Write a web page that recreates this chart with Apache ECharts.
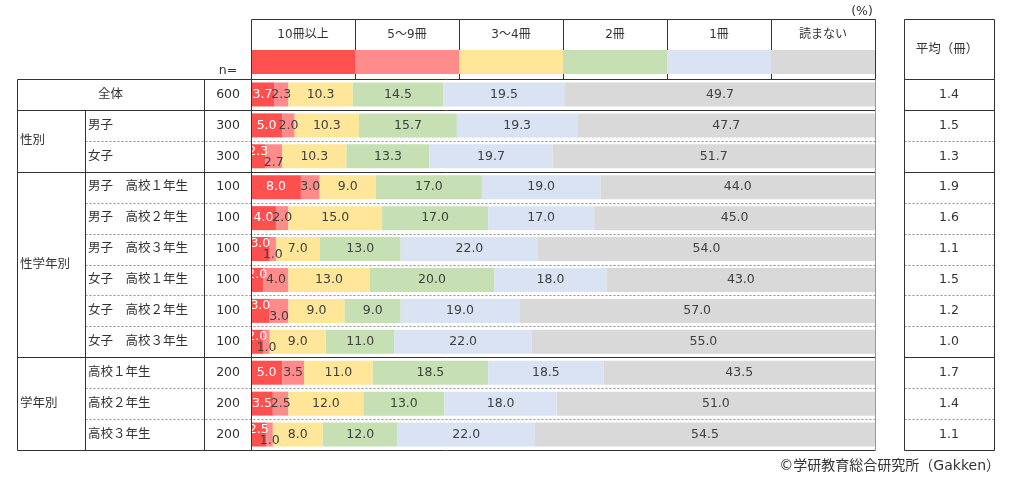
<!DOCTYPE html>
<html><head><meta charset="utf-8">
<script src="https://cdn.jsdelivr.net/npm/echarts@6/dist/echarts.min.js"></script>
<style>html,body{margin:0;padding:0;background:#fff}#c{width:1030px;height:483px}</style>
</head><body><div id="c"></div>
<script>
const categories = ['10冊以上', '5～9冊', '3～4冊', '2冊', '1冊', '読まない'];
const rowKeys = ['all','boy','girl','b1','b2','b3','g1','g2','g3','h1','h2','h3'];
const subLabels = ['', '男子', '女子', '男子　高校１年生', '男子　高校２年生', '男子　高校３年生',
  '女子　高校１年生', '女子　高校２年生', '女子　高校３年生', '高校１年生', '高校２年生', '高校３年生'];
const nValues = ['600','300','300','100','100','100','100','100','100','200','200','200'];
const avgValues = ['1.4','1.5','1.3','1.9','1.6','1.1','1.5','1.2','1.0','1.7','1.4','1.1'];
const groups = [
  {name:'全体', from:0, to:0, centered:true},
  {name:'性別', from:1, to:2},
  {name:'性学年別', from:3, to:8},
  {name:'学年別', from:9, to:11}
];
const v10plus = [3.7, 5.0, 2.3, 8.0, 4.0, 3.0, 2.0, 3.0, 2.0, 5.0, 3.5, 2.5];
const v5to9   = [2.3, 2.0, 2.7, 3.0, 2.0, 1.0, 4.0, 3.0, 1.0, 3.5, 2.5, 1.0];
const v3to4   = [10.3, 10.3, 10.3, 9.0, 15.0, 7.0, 13.0, 9.0, 9.0, 11.0, 12.0, 8.0];
const v2      = [14.5, 15.7, 13.3, 17.0, 17.0, 13.0, 20.0, 9.0, 11.0, 18.5, 13.0, 12.0];
const v1      = [19.5, 19.3, 19.7, 19.0, 17.0, 22.0, 18.0, 19.0, 22.0, 18.5, 18.0, 22.0];
const v0      = [49.7, 47.7, 51.7, 44.0, 45.0, 54.0, 43.0, 57.0, 55.0, 43.5, 51.0, 54.5];
const seriesValues = [v10plus, v5to9, v3to4, v2, v1, v0];
const colors = ['#FF5050', '#FF8B8B', '#FFE699', '#C6E0B4', '#DAE3F3', '#D9D9D9'];

const FONT = "'DejaVu Sans','Noto Sans CJK JP',sans-serif";
const TXT = '#333';
const L = 251, W = 624, T = 79, H = 371;

const chart = echarts.init(document.getElementById('c'), null, {renderer:'canvas'});

function itemsFor(si) {
  return seriesValues[si].map((v, r) => {
    let dy = 0;
    const a = v10plus[r], b = v5to9[r];
    if (si === 0 && a <= 3) dy = -5;
    if (si === 1 && a <= 3 && b <= 3) dy = 6;
    return {value: v, label: {offset: [0, dy]}};
  });
}

const series = categories.map((name, si) => ({
  name, type: 'bar', stack: 'total', xAxisIndex: 0, yAxisIndex: 0,
  barWidth: 24,
  itemStyle: {color: colors[si]},
  label: {
    show: true, position: 'inside', fontFamily: FONT, fontSize: 12.5,
    color: si === 0 ? '#fff' : '#404040',
    formatter: p => p.value.toFixed(1)
  },
  data: itemsFor(si)
}));
series.push({
  type: 'bar', xAxisIndex: 1, yAxisIndex: 3, barCategoryGap: '0%', silent: true,
  data: categories.map((c, i) => ({value: 1, itemStyle: {color: colors[i]}})),
  z: 3
});

const option = {
  animation: false,
  textStyle: {fontFamily: FONT},
  grid: [
    {left: L, top: T, width: W, height: H},
    {left: L, top: 50, width: W, height: 24}
  ],
  xAxis: [
    {type: 'value', gridIndex: 0, min: 0, max: 100, show: false},
    {type: 'category', gridIndex: 1, position: 'top', data: categories,
     axisLine: {show: false}, axisTick: {show: false}, splitLine: {show: false},
     axisLabel: {interval: 0, margin: 9, fontSize: 12, color: TXT, fontFamily: FONT}}
  ],
  yAxis: [
    {type: 'category', gridIndex: 0, inverse: true, position: 'left', data: rowKeys,
     axisLine: {show: false}, axisTick: {show: false},
     axisLabel: {align: 'left', margin: L - 88, fontSize: 12.5, color: TXT, fontFamily: FONT,
       formatter: (v, i) => subLabels[i]}},
    {type: 'category', gridIndex: 0, inverse: true, position: 'left', data: rowKeys,
     axisLine: {show: false}, axisTick: {show: false},
     axisLabel: {align: 'right', margin: 11, fontSize: 12.5, color: TXT, fontFamily: FONT,
       formatter: (v, i) => nValues[i]}},
    {type: 'category', gridIndex: 0, inverse: true, position: 'right', data: rowKeys,
     axisLine: {show: false}, axisTick: {show: false},
     axisLabel: {align: 'center', margin: 74, fontSize: 12.5, color: TXT, fontFamily: FONT,
       formatter: (v, i) => avgValues[i]}},
    {type: 'value', gridIndex: 1, min: 0, max: 1, show: false}
  ],
  series
};
chart.setOption(option);

// table lines and texts
const yc = i => chart.convertToPixel({yAxisIndex: 0}, rowKeys[i]);
const rowH = (yc(11) - yc(0)) / 11;
const bnd = i => i < 12 ? yc(i) - rowH / 2 : yc(11) + rowH / 2;
const starts = new Set(groups.map(g => g.from).concat([12]));
const crisp = v => Math.round(v) + 0.5;
const els = [];
function line(x1, y1, x2, y2, color, dash, z) {
  els.push({type: 'line', silent: true, z: z == null ? 10 : z,
    shape: {x1: crisp(x1), y1: crisp(y1), x2: crisp(x2), y2: crisp(y2)},
    style: {stroke: color, lineWidth: 1, lineDash: dash ? [2, 2] : null}});
}
function text(str, x, y, align, size) {
  els.push({type: 'text', silent: true, z: 10, x, y,
    style: {text: str, fill: TXT, font: (size || 12) + 'px ' + FONT, align: align || 'center', verticalAlign: 'middle'}});
}
const RX = L + W;
const AX1 = 904, AX2 = 994;
for (let b = 0; b <= 12; b++) {
  const y = bnd(b);
  if (starts.has(b)) {
    line(17, y, RX, y, '#333');
    line(AX1, y, AX2, y, '#333');
  } else {
    line(85, y, RX, y, '#909090', true);
    line(AX1, y, AX2, y, '#909090', true);
  }
}
const yTop = bnd(0), yBot = bnd(12);
line(17, yTop, 17, yBot, '#333');
line(85, bnd(1), 85, yBot, '#333');
line(204, yTop, 204, yBot, '#333');
line(L, 19, L, yBot, '#333');
line(RX, 19, RX, yTop, '#333');
line(RX, yTop, RX, yBot, '#999');
line(L, 19, RX, 19, '#333');
for (let i = 1; i < 6; i++) {
  const x = L + i * W / 6;
  line(x, 19, x, yTop, '#333', false, 1);
}
line(AX1, 19, AX1, yBot, '#333');
line(AX2, 19, AX2, yBot, '#333');
line(AX1, 19, AX2, 19, '#333');

groups.forEach(g => {
  const y = (yc(g.from) + yc(g.to)) / 2;
  if (g.centered) text(g.name, (17 + 204) / 2, y, 'center', 12.5);
  else text(g.name, 20, y, 'left', 12.5);
});
text('n=', 228, 71, 'center', 12.5);
text('(%)', 862, 12, 'center', 12.5);
text('平均（冊）', 947, 50, 'center', 12.5);
text('©学研教育総合研究所（Gakken）', 1000, 466, 'right', 14);

chart.setOption({graphic: {elements: els}});
</script>
</body></html>
